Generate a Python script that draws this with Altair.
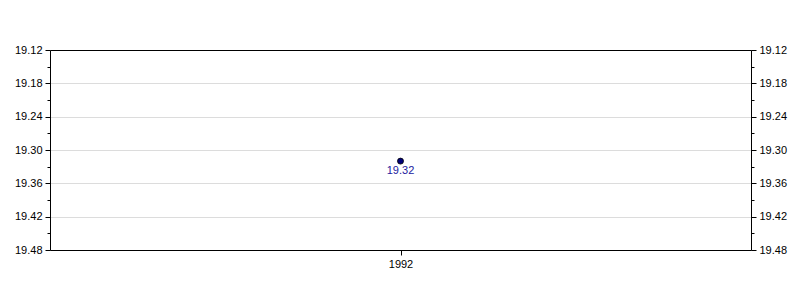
import altair as alt
import pandas as pd

years = ["1992"]
values = [19.32]
y_ticks = [19.12, 19.15, 19.18, 19.21, 19.24, 19.27, 19.30, 19.33, 19.36, 19.39, 19.42, 19.45, 19.48]

df = pd.DataFrame({"year": years, "value": values})

major = "round((datum.value - 19.12) * 100 / 3) % 2 == 0"
font = "Liberation Sans"

yscale = alt.Scale(domain=[19.12, 19.48], reverse=True, nice=False, zero=False)

def yaxis(orient, grid):
    return alt.Axis(
        orient=orient,
        values=y_ticks,
        title=None,
        labelExpr=f"({major}) ? format(datum.value, '.2f') : ''",
        labelFont=font, labelFontSize=11, labelColor="black",
        labelPadding=3,
        tickSize={"condition": {"test": major, "value": 5}, "value": 3},
        tickColor="black",
        domainColor="black",
        grid=grid,
        gridColor="#dcdcdc",
        gridOpacity={"condition": {"test": f"({major}) && datum.value > 19.13 && datum.value < 19.47", "value": 1}, "value": 0},
    )

xscale = alt.Scale(type="point", padding=0.5)
xbottom = alt.X("year:N", title=None, scale=xscale,
                axis=alt.Axis(orient="bottom", labelAngle=0, labelFont=font, labelFontSize=11, labelColor="black",
                              tickSize=5, tickColor="black", domainColor="black", grid=False, labelPadding=3))
xtop = alt.X("year:N", title=None, scale=xscale,
             axis=alt.Axis(orient="top", labels=False, ticks=False, domainColor="black", grid=False))

base = alt.Chart(df)
pts = base.mark_point(filled=True, size=36, color="#00007a", stroke="black", strokeWidth=0.8, opacity=1).encode(
    x=xbottom, y=alt.Y("value:Q", scale=yscale, axis=yaxis("left", True)))
right = base.mark_point(opacity=0).encode(
    x=xtop, y=alt.Y("value:Q", scale=yscale, axis=yaxis("right", False)))
labels = base.mark_text(dy=10, color="#2222a0", font=font, fontSize=11).encode(
    x=alt.X("year:N", scale=xscale, axis=None), y=alt.Y("value:Q", scale=yscale, axis=None),
    text=alt.Text("value:Q", format=".2f"))

chart = alt.layer(pts, right, labels).resolve_axis(y="independent", x="independent").properties(
    width=701, height=200,
    autosize=alt.AutoSizeParams(type="none"),
    padding={"left": 50, "top": 50, "right": 49, "bottom": 50},
).configure_view(stroke="black", strokeWidth=1).configure(background="white")

chart.save("out.html", embed_options={"renderer": "svg", "actions": False})
